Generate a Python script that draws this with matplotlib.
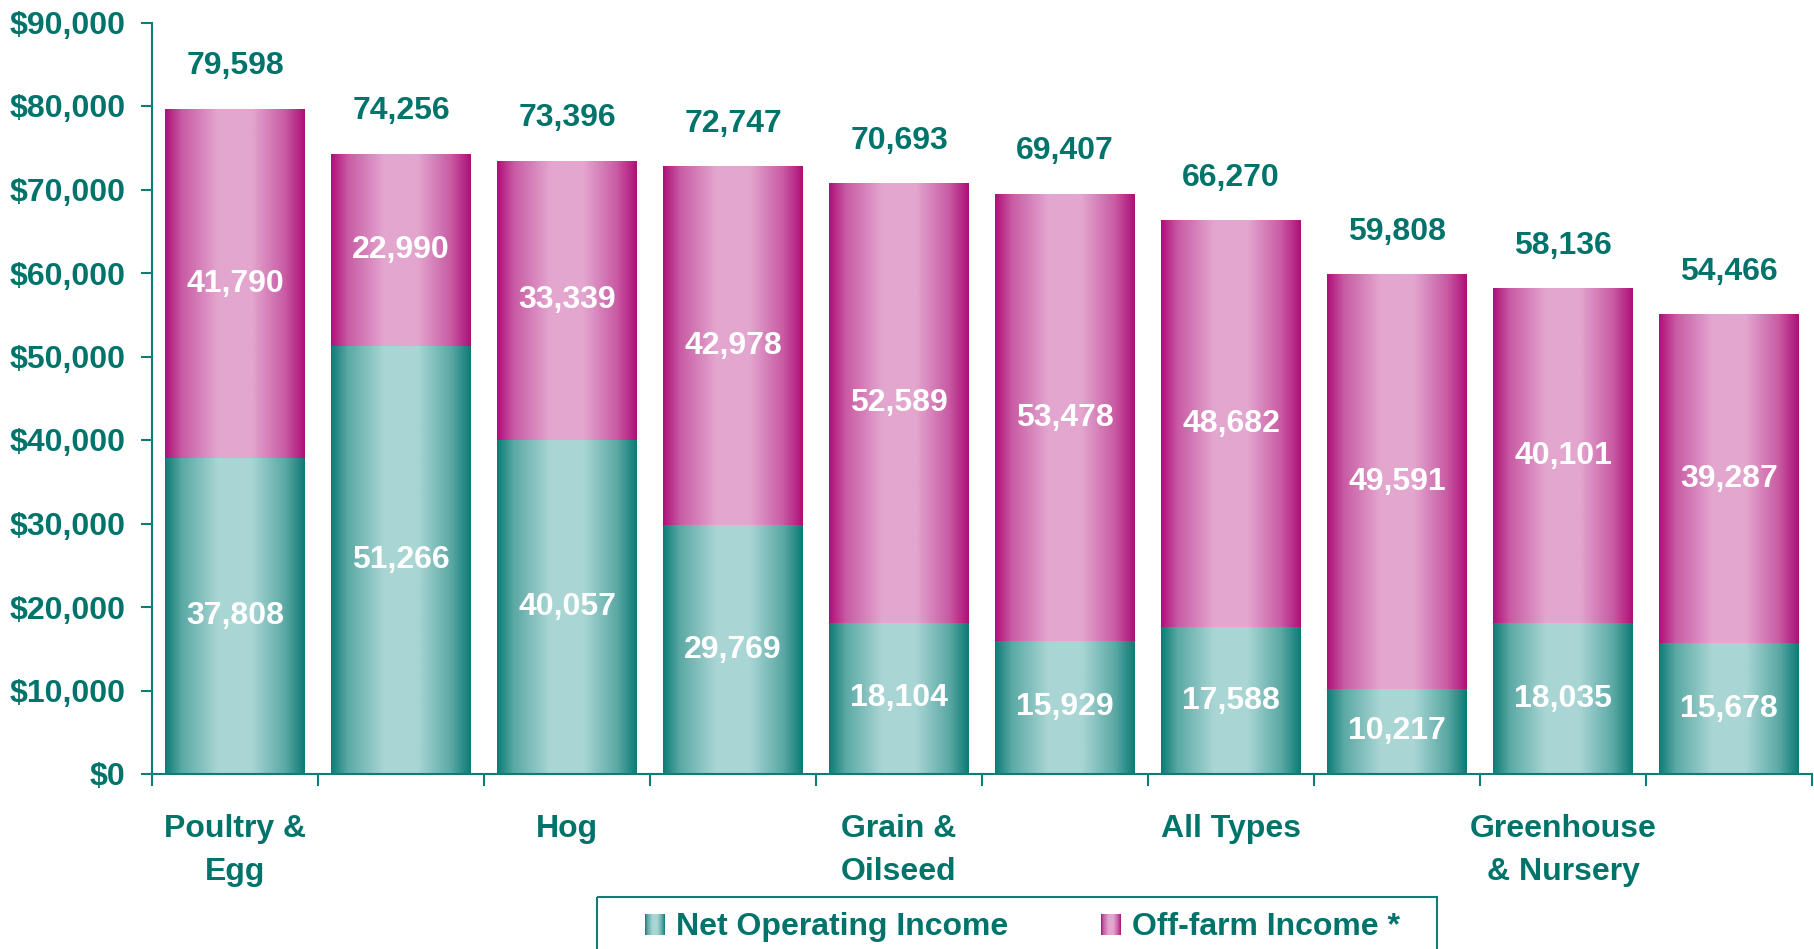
import numpy as np
import matplotlib.pyplot as plt
from matplotlib.patches import Rectangle
from matplotlib.colors import to_rgb
from matplotlib.ticker import FuncFormatter

plt.rcParams['font.family'] = ['Liberation Sans', 'DejaVu Sans']
plt.rcParams['font.weight'] = 'bold'

# data (only every other category is labelled)
categories = ['Poultry &\nEgg', '', 'Hog', '', 'Grain &\nOilseed', '',
              'All Types', '', 'Greenhouse\n& Nursery', '']
net_operating = [37808, 51266, 40057, 29769, 18104, 15929, 17588, 10217, 18035, 15678]
off_farm = [41790, 22990, 33339, 42978, 52589, 53478, 48682, 49591, 40101, 39287]
totals = [79598, 74256, 73396, 72747, 70693, 69407, 66270, 59808, 58136, 54466]
series_names = ['Net Operating Income', 'Off-farm Income *']

TEXT_C = '#00746A'
AXIS_C = '#0E7D76'
teal = ('#0D7B75', '#A9D6D4')
magenta = ('#AE0F78', '#E3A6CF')
FS = 23


def gradient(dark, light, n=256):
    t = np.linspace(0, 1, n)
    w = np.interp(t, [0, 0.12, 0.38, 0.62, 0.86, 1], [0, 0.5, 1, 1, 0.5, 0])
    d = np.array(to_rgb(dark))
    l = np.array(to_rgb(light))
    return (d[None, :] * (1 - w[:, None]) + l[None, :] * w[:, None])[None, :, :]


W, H = 1814, 949
fig = plt.figure(figsize=(W / 100, H / 100), dpi=100)
ax = fig.add_axes([152 / W, 1 - 774 / H, 1660 / W, (774 - 22.5) / H])

x = np.arange(len(categories))
width = 0.84
bars_net = ax.bar(x, net_operating, width, color='none', zorder=1)
bars_off = ax.bar(x, off_farm, width, bottom=net_operating, color='none', zorder=1)

# gradient fill for every bar segment
for bars, cols in [(bars_net, teal), (bars_off, magenta)]:
    g = gradient(*cols)
    for b in bars:
        x0, y0 = b.get_x(), b.get_y()
        ax.imshow(g, extent=[x0, x0 + b.get_width(), y0, y0 + b.get_height()],
                  aspect='auto', interpolation='bilinear', zorder=2)

ax.bar_label(bars_net, labels=[f'{v:,}' for v in net_operating], label_type='center',
             color='white', fontsize=FS, fontweight='bold', zorder=3)
ax.bar_label(bars_off, labels=[f'{v:,}' for v in off_farm], label_type='center',
             color='white', fontsize=FS, fontweight='bold', zorder=3)
for b, t in zip(bars_off, totals):
    ax.annotate(f'{t:,}', (b.get_x() + b.get_width() / 2, b.get_y() + b.get_height()),
                xytext=(0, 31), textcoords='offset points', ha='center', va='center',
                color=TEXT_C, fontsize=FS, fontweight='bold')

ax.set_xlim(-0.5, len(categories) - 0.5)
ax.set_ylim(0, 90000)
ax.set_yticks(np.arange(0, 90001, 10000))
ax.yaxis.set_major_formatter(FuncFormatter(lambda v, p: f'${v:,.0f}'))
ax.set_xticks(np.arange(-0.5, len(categories), 1))
ax.set_xticks(x, minor=True)
ax.set_xticklabels(categories, minor=True, linespacing=1.55)
ax.tick_params(axis='x', which='major', length=8.5, width=1.5, color=AXIS_C, labelbottom=False)
ax.tick_params(axis='x', which='minor', length=0, pad=29, labelsize=FS, labelcolor=TEXT_C)
ax.tick_params(axis='y', length=8, width=1.5, color=AXIS_C, pad=11, labelsize=FS,
               labelcolor=TEXT_C)

for s in ['top', 'right']:
    ax.spines[s].set_visible(False)
for s in ['left', 'bottom']:
    ax.spines[s].set_color(AXIS_C)
    ax.spines[s].set_linewidth(1.5)

# legend drawn in figure pixel space (box runs off the bottom edge like the original)
lax = fig.add_axes([0, 0, 1, 1])
lax.patch.set_alpha(0)
lax.add_patch(Rectangle((597, 897), 840, 120, fill=False, edgecolor=AXIS_C, lw=1.5))
for (mx, tx), cols, name in zip([(645, 676), (1101, 1132)], [teal, magenta], series_names):
    lax.imshow(gradient(*cols), extent=[mx, mx + 20, 935, 914], aspect='auto',
               interpolation='bilinear')
    lax.text(tx, 935, name, va='baseline', ha='left', fontsize=FS, color=TEXT_C,
             fontweight='bold')
lax.set_xlim(0, W)
lax.set_ylim(H, 0)
lax.axis('off')

fig.savefig('out.png', dpi=100)
